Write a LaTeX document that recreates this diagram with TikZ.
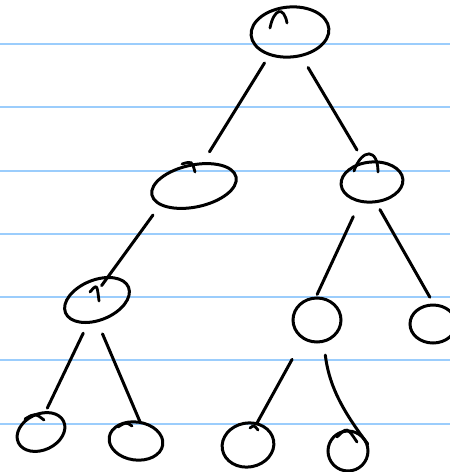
\documentclass[tikz,border=0pt]{standalone}
\usetikzlibrary{shapes.geometric}
\definecolor{ruleblue}{RGB}{155,205,252}
\tikzset{
  blob/.style={draw=black,ellipse,line width=1.5pt,inner sep=0pt,outer sep=0pt},
  edge/.style={line width=1.5pt,line cap=round},
  hook/.style={line width=1.4pt,line cap=round},
  rule/.style={draw=ruleblue,line width=1pt},
}
\begin{document}
\begin{tikzpicture}[x=0.5pt,y=-0.5pt]
  \useasboundingbox (0,0) rectangle (450,472);
  \clip (0,0) rectangle (450,472);
  % ruled paper
  \foreach \y in {44,107,171,234,297,360,424}
    \draw[rule] (0,\y) -- (450,\y);
  % nodes
  \node[blob,minimum width=39pt,minimum height=25pt,rotate=5] (root) at (290,32) {};
  \node[blob,minimum width=43pt,minimum height=21pt,rotate=12] (l) at (194,186) {};
  \node[blob,minimum width=31pt,minimum height=20pt,rotate=5] (r) at (372,182) {};
  \node[blob,minimum width=34pt,minimum height=20pt,rotate=22] (ll) at (97,300) {};
  \node[blob,minimum width=24pt,minimum height=22pt] (rl) at (317,320) {};
  \node[blob,minimum width=23pt,minimum height=19pt] (rr) at (433,324) {};
  \node[blob,minimum width=25pt,minimum height=18pt,rotate=25] (lll) at (41,432) {};
  \node[blob,minimum width=27pt,minimum height=19pt,rotate=-8] (llr) at (136,441) {};
  \node[blob,minimum width=26pt,minimum height=22pt,rotate=10] (rll) at (248,445) {};
  \node[blob,minimum width=20pt,minimum height=20pt] (rlr) at (348,451) {};
  % pen hooks
  \draw[hook] ([shift={(-20,-4)}]root.center) .. controls ([shift={(-16,-24)}]root.center) and ([shift={(-6,-26)}]root.center) .. ([shift={(-3,-9)}]root.center);
  \draw[hook] ([shift={(-18,-11)}]r.center) .. controls ([shift={(-10,-34)}]r.center) and ([shift={(6,-34)}]r.center) .. ([shift={(6,-10)}]r.center);
  \draw[hook] ([shift={(-12,-22)}]l.center) .. controls ([shift={(-2,-25)}]l.center) .. ([shift={(1,-14)}]l.center);
  \draw[hook] ([shift={(-7,-8)}]ll.center) .. controls ([shift={(0,-16)}]ll.center) .. ([shift={(2,1)}]ll.center);
  \draw[hook] ([shift={(-16,-13)}]lll.center) .. controls ([shift={(-6,-19)}]lll.center) .. ([shift={(3,-12)}]lll.center);
  \draw[hook] ([shift={(-18,-14)}]llr.center) .. controls ([shift={(-10,-19)}]llr.center) .. ([shift={(-4,-15)}]llr.center);
  \draw[hook] ([shift={(2,-17)}]rll.center) .. controls ([shift={(6,-20)}]rll.center) .. ([shift={(10,-15)}]rll.center);
  \draw[hook] ([shift={(-11,-14)}]rlr.center) .. controls ([shift={(-1,-24)}]rlr.center) .. ([shift={(9,-9)}]rlr.center);
  % edges
  \draw[edge,shorten <=5pt,shorten >=7pt] (root.223) -- (l.58);
  \draw[edge,shorten <=7pt,shorten >=7.5pt] (root.290) -- (r.106);
  \draw[edge,shorten <=6.5pt,shorten >=-5pt] (l.197) -- (ll.43);
  \draw[edge,shorten <=8.5pt,shorten >=2pt] (r.234) -- (rl.94);
  \draw[edge,shorten <=4.5pt,shorten >=4.5pt] (r.275) -- (rr.86);
  \draw[edge,shorten <=6pt,shorten >=2.5pt] (ll.227) -- (lll.53);
  \draw[edge,shorten <=7pt] (ll.248) -- (llr.85);
  \draw[edge,shorten <=12pt,shorten >=0.5pt] (rl.234) -- (rll.58);
  \draw[edge,shorten <=7pt,shorten >=-3.5pt] (rl.287) to[bend right=15] (rlr.39);
\end{tikzpicture}
\end{document}
